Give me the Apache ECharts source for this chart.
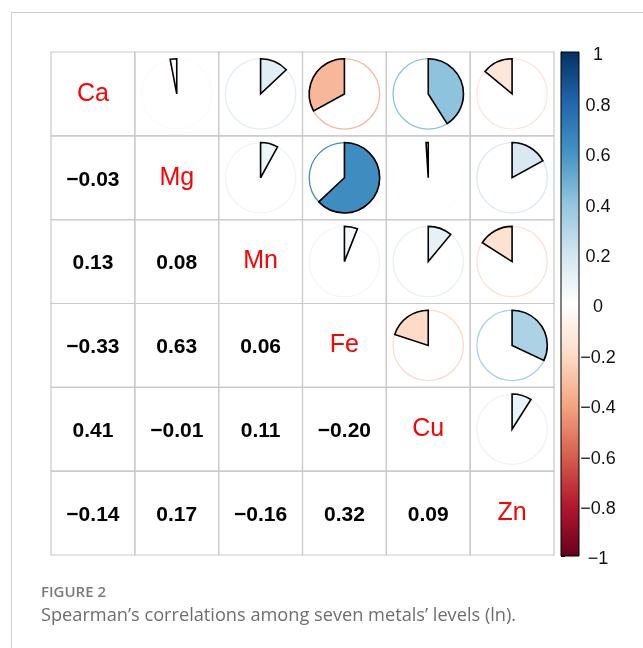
<!DOCTYPE html>
<html>
<head>
<meta charset="utf-8">
<title>Spearman correlations</title>
<script src="https://cdn.jsdelivr.net/npm/echarts@6/dist/echarts.min.js"></script>
<style>
  html, body { margin: 0; padding: 0; background: #fff; }
  #chart { width: 643px; height: 648px; }
</style>
</head>
<body>
<div id="chart"></div>
<script>
// Metals on both axes of the correlation matrix
const metals = ['Ca', 'Mg', 'Mn', 'Fe', 'Cu', 'Zn'];

// Lower-triangle Spearman coefficients, one row per metal (row i has i entries)
const rowCa = [];
const rowMg = [-0.03];
const rowMn = [0.13, 0.08];
const rowFe = [-0.33, 0.63, 0.06];
const rowCu = [0.41, -0.01, 0.11, -0.20];
const rowZn = [-0.14, 0.17, -0.16, 0.32, 0.09];
const lowerRows = [rowCa, rowMg, rowMn, rowFe, rowCu, rowZn];

// Colour legend ticks and the diverging palette (from -1 to 1)
const legendTicks = [-1, -0.8, -0.6, -0.4, -0.2, 0, 0.2, 0.4, 0.6, 0.8, 1];
const palette = ['#67001F', '#B2182B', '#D6604D', '#F4A582', '#FDDBC7', '#FFFFFF',
                 '#D1E5F0', '#92C5DE', '#4393C3', '#2166AC', '#053061'];

const fmt = v => v.toFixed(2).replace('-', '\u2212');
const fmtTick = v => String(+(+v).toFixed(1)).replace('-', '\u2212');

function coef(a, b) {
  // symmetric lookup: a, b are indices into metals
  if (a === b) return 1;
  return a > b ? lowerRows[a][b] : lowerRows[b][a];
}

// Cells: [col, row, value]
const cellData = [];
const pieData = [];
for (let r = 0; r < metals.length; r++) {
  for (let c = 0; c < metals.length; c++) {
    cellData.push([c, r, coef(r, c)]);
    if (c > r) pieData.push([c, r, coef(r, c)]);
  }
}

const chart = echarts.init(document.getElementById('chart'), null, { renderer: 'canvas' });

const option = {
  animation: false,
  backgroundColor: '#ffffff',
  tooltip: { show: false },
  grid: [
    { left: 51, top: 52, width: 503, height: 503 },
    { left: 561, top: 52, width: 18, height: 504 }
  ],
  xAxis: [
    { gridIndex: 0, type: 'category', data: metals, show: false },
    { gridIndex: 1, type: 'value', min: 0, max: 1, show: false }
  ],
  yAxis: [
    { gridIndex: 0, type: 'category', data: metals, inverse: true, show: false },
    {
      gridIndex: 1, type: 'value', min: legendTicks[0], max: legendTicks[legendTicks.length - 1],
      interval: 0.2, position: 'right',
      axisLine: { show: true, lineStyle: { color: '#000', width: 1 } },
      axisTick: { show: true, length: 4, lineStyle: { color: '#000', width: 1 } },
      splitLine: { show: false },
      axisLabel: {
        show: true, margin: 19, align: 'center', verticalAlign: 'top', lineHeight: 7,
        color: '#111', fontFamily: 'Liberation Sans, Arial, sans-serif', fontSize: 18,
        formatter: fmtTick
      }
    }
  ],
  visualMap: {
    type: 'continuous', show: false, min: -1, max: 1, dimension: 2, seriesIndex: 1,
    inRange: { color: palette }
  },
  series: [
    {
      // cell borders, coefficient text and diagonal names
      type: 'custom', xAxisIndex: 0, yAxisIndex: 0, data: cellData, silent: true,
      renderItem: function (params, api) {
        const c = api.value(0), r = api.value(1), v = api.value(2);
        const p = api.coord([c, r]);
        const s = api.size([1, 1]);
        const children = [{
          type: 'rect',
          shape: { x: p[0] - s[0] / 2, y: p[1] - s[1] / 2, width: s[0], height: s[1] },
          style: { fill: 'none', stroke: '#c9c9c9', lineWidth: 1.2 }
        }];
        if (c === r) {
          children.push({
            type: 'text', x: p[0], y: p[1],
            style: {
              text: metals[c], fill: '#ff0000', fontSize: 25,
              fontFamily: 'Liberation Sans, Arial, sans-serif',
              align: 'center', verticalAlign: 'middle'
            }
          });
        } else if (c < r) {
          children.push({
            type: 'text', x: p[0], y: p[1] + 2,
            style: {
              text: fmt(v), fill: '#000', fontSize: 21, fontWeight: 'bold',
              fontFamily: 'Liberation Sans, Arial, sans-serif',
              align: 'center', verticalAlign: 'middle'
            }
          });
        }
        return { type: 'group', children: children };
      }
    },
    {
      // pie glyphs in the upper triangle
      type: 'custom', xAxisIndex: 0, yAxisIndex: 0, data: pieData, silent: true,
      renderItem: function (params, api) {
        const c = api.value(0), r = api.value(1), v = api.value(2);
        const p = api.coord([c, r]);
        const s = api.size([1, 1]);
        const rad = s[0] * 0.42;
        const color = api.visual('color');
        const top = -Math.PI / 2;
        const sweep = Math.abs(v) * Math.PI * 2;
        const start = v >= 0 ? top : top - sweep;
        const end = v >= 0 ? top + sweep : top;
        return {
          type: 'group',
          children: [
            {
              type: 'circle',
              shape: { cx: p[0], cy: p[1], r: rad },
              style: { fill: '#fff', stroke: color, lineWidth: 1.3 }
            },
            {
              type: 'sector',
              shape: { cx: p[0], cy: p[1], r: rad, r0: 0, startAngle: start, endAngle: end, clockwise: true },
              style: { fill: color, stroke: '#000', lineWidth: 1.6, lineJoin: 'miter', miterLimit: 4 }
            }
          ]
        };
      }
    },
    {
      // colour legend bar
      type: 'custom', xAxisIndex: 1, yAxisIndex: 1, data: [[0, 1, 1, -1]], silent: true,
      renderItem: function (params, api) {
        const a = api.coord([api.value(0), api.value(1)]);
        const b = api.coord([api.value(2), api.value(3)]);
        const stops = palette.map((col, i) => ({ offset: 1 - i / (palette.length - 1), color: col }))
                             .sort((x, y) => x.offset - y.offset);
        return {
          type: 'rect',
          shape: { x: a[0], y: a[1], width: b[0] - a[0], height: b[1] - a[1] },
          style: {
            fill: new echarts.graphic.LinearGradient(0, 0, 0, 1, stops),
            stroke: '#000', lineWidth: 1
          }
        };
      }
    }
  ],
  graphic: [
    { type: 'line', shape: { x1: 11, y1: 12.5, x2: 643, y2: 12.5 }, style: { stroke: '#cccccc', lineWidth: 1 } },
    { type: 'line', shape: { x1: 11.5, y1: 12, x2: 11.5, y2: 648 }, style: { stroke: '#cccccc', lineWidth: 1 } },
    {
      type: 'text', left: 41, top: 585,
      style: { text: 'FIGURE 2', fill: '#7a7a7a', fontSize: 15, fontWeight: 600, fontFamily: 'Open Sans, sans-serif' }
    },
    {
      type: 'text', left: 41, top: 607,
      style: { text: 'Spearman\u2019s correlations among seven metals\u2019 levels (ln).', fill: '#6e6e6e', fontSize: 18.2, fontFamily: 'Open Sans, sans-serif' }
    }
  ]
};

chart.setOption(option);
</script>
</body>
</html>
